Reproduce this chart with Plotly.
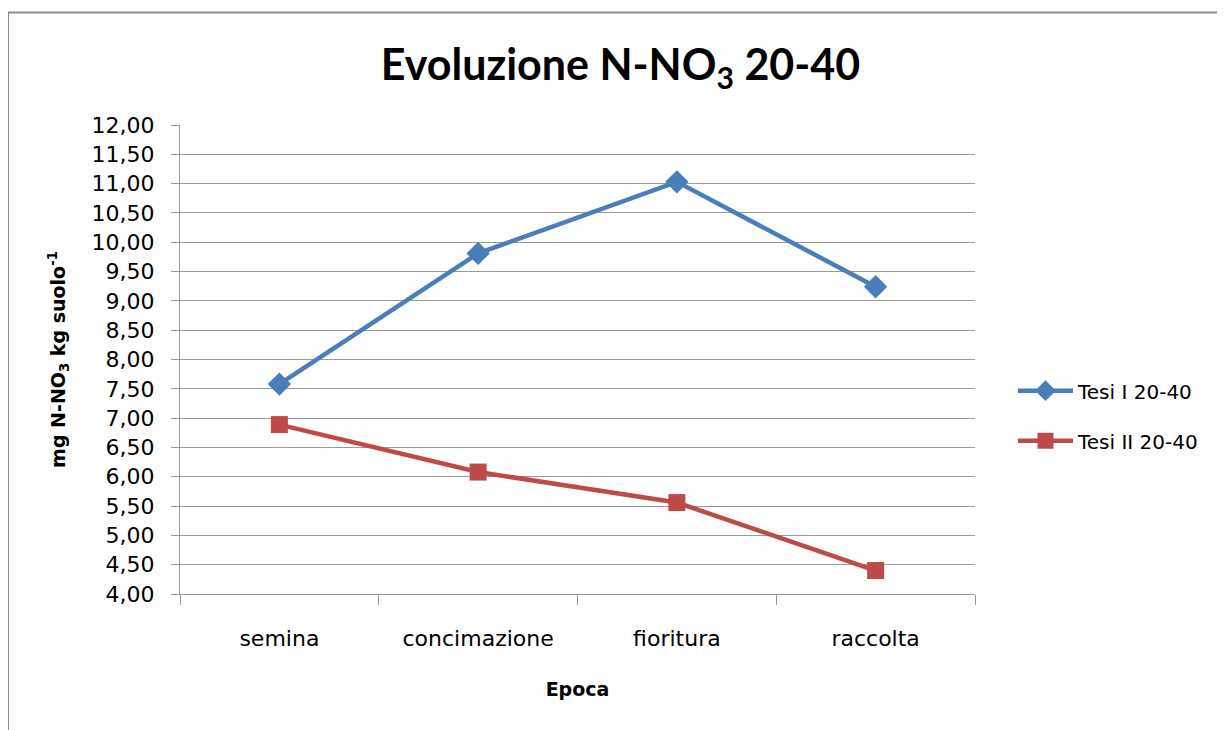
import plotly.graph_objects as go

categories = ["semina", "concimazione", "fioritura", "raccolta"]
tesi_1 = [7.58, 9.81, 11.03, 9.24]
tesi_2 = [6.89, 6.08, 5.56, 4.40]
series_names = ["Tesi I 20-40", "Tesi II 20-40"]
y_ticks = [4 + 0.5 * i for i in range(17)]

BLUE = "#4A7EBB"
RED = "#BE4B48"
GRID = "#9A9A9A"
FONT = "DejaVu Sans"

# plot area in figure pixels
L, R, T, B = 172, 967, 117, 586.5
PW, PH = R - L, B - T

fig = go.Figure()
fig.add_trace(go.Scatter(
    x=categories, y=tesi_1, name=series_names[0], mode="lines+markers",
    line=dict(color=BLUE, width=4.5),
    marker=dict(symbol="diamond", size=18, color=BLUE),
    legendgroup="a",
))
fig.add_trace(go.Scatter(
    x=categories, y=tesi_2, name=series_names[1], mode="lines+markers",
    line=dict(color=RED, width=4.5),
    marker=dict(symbol="square", size=17, color=RED),
    legendgroup="b",
))

fig.update_layout(
    width=1225, height=730, autosize=False,
    margin=dict(l=L, r=1225 - R, t=T, b=730 - B, pad=0),
    paper_bgcolor="white", plot_bgcolor="white",
    separators=",.",
    font=dict(family=FONT, size=22, color="#000000"),
    title=dict(
        text="<b>Evoluzione N-NO<sub>3</sub> 20-40</b>",
        font=dict(family="Lato", size=43, color="#000000"),
        x=0.5, xref="container", xanchor="center",
        y=0.922, yref="container", yanchor="middle",
    ),
    showlegend=True,
    legend=dict(
        x=(1005 - L) / PW, xanchor="left", y=(B - 408) / PH, yanchor="middle",
        font=dict(family=FONT, size=20, color="#000000"),
        itemwidth=55, tracegroupgap=21, traceorder="grouped",
        bgcolor="rgba(0,0,0,0)",
    ),
    xaxis=dict(
        type="category", range=[-0.5, 3.5],
        tickson="boundaries", ticks="outside", ticklen=10, tickcolor=GRID,
        showline=True, linecolor=GRID, linewidth=1, showgrid=False,
        tickfont=dict(family=FONT, size=22),
        ticklabelstandoff=25,
        title=dict(text="<b>Epoca</b>", font=dict(family=FONT, size=19), standoff=32),
        zeroline=False,
    ),
    yaxis=dict(
        range=[4, 12], tickvals=y_ticks, tickformat=".2f",
        ticks="outside", ticklen=8, tickcolor=GRID,
        showline=True, linecolor=GRID, linewidth=1,
        showgrid=True, gridcolor=GRID, gridwidth=1,
        tickfont=dict(family=FONT, size=22),
        ticklabelstandoff=12,
        title=dict(text="<b>mg N-NO<sub>3</sub> kg suolo<sup>-1</sup></b>",
                   font=dict(family=FONT, size=19), standoff=20),
        zeroline=False,
    ),
    shapes=[dict(
        type="rect", xref="paper", yref="paper",
        x0=(0 - L) / PW, x1=(1240 - L) / PW,
        y0=(B - 745) / PH, y1=(B - 4.5) / PH,
        line=dict(color="#8C8C8C", width=2), fillcolor="rgba(0,0,0,0)",
        layer="below",
    )],
)

fig.write_html("out.html")
